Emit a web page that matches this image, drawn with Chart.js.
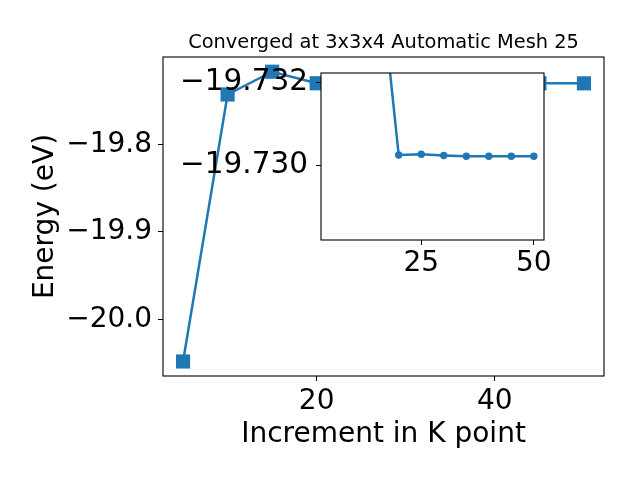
<!DOCTYPE html>
<html>
<head>
<meta charset="utf-8">
<script src="https://cdn.jsdelivr.net/npm/chart.js@4.4.0/dist/chart.umd.min.js"></script>
<style>
  html, body { margin: 0; padding: 0; background: #fff; }
  #wrap { position: relative; width: 640px; height: 480px; }
  canvas { position: absolute; left: 0; top: 0; }
</style>
</head>
<body>
<div id="wrap">
  <canvas id="mainChart" width="640" height="480"></canvas>
  <canvas id="insetChart" width="640" height="480"></canvas>
</div>
<script>
// k-point increments and total energies (eV)
const kPoints = [5, 10, 15, 20, 25, 30, 35, 40, 45, 50];
const energies = [-20.048, -19.743, -19.717, -19.7302, -19.7302, -19.7302, -19.7303, -19.7303, -19.7303, -19.7303];

// values shown in the zoomed inset
const insetK = [15, 20, 25, 30, 35, 40, 45, 50];
const insetEnergies = [-19.7354, -19.73025, -19.73027, -19.73024, -19.73022, -19.73022, -19.73022, -19.73022];

// tick labels
const mainXTicks = [20, 40];
const mainYTicks = [-20.0, -19.9, -19.8];
const insetXTicks = [25, 50];
const insetYTicks = [-19.732, -19.730];

const titleText = 'Converged at 3x3x4 Automatic Mesh 25';
const xTitle = 'Increment in K point';
const yTitle = 'Energy (eV)';

const FONT = 'DejaVu Sans';
const BLUE = '#1f77b4';

// matplotlib style minus sign
function fmt(v, digits) {
    const s = Math.abs(v).toFixed(digits);
    return v < 0 ? '\u2212' + s : s;
}

function toPoints(xs, ys) {
    return xs.map((x, i) => ({ x: x, y: ys[i] }));
}

// white background + black box around the plot area, optional title on top
const framePlugin = {
    id: 'frame',
    beforeDraw(chart, args, opts) {
        const a = chart.chartArea;
        const ctx = chart.ctx;
        ctx.save();
        ctx.fillStyle = '#fff';
        ctx.fillRect(a.left, a.top, a.right - a.left, a.bottom - a.top);
        ctx.restore();
    },
    afterDraw(chart, args, opts) {
        const a = chart.chartArea;
        const ctx = chart.ctx;
        ctx.save();
        ctx.strokeStyle = '#000';
        ctx.lineWidth = 1.1;
        ctx.strokeRect(a.left, a.top, a.right - a.left, a.bottom - a.top);
        if (opts.title) {
            ctx.fillStyle = '#000';
            ctx.font = '19.4px "' + FONT + '"';
            ctx.textAlign = 'center';
            ctx.textBaseline = 'middle';
            ctx.fillText(opts.title, (a.left + a.right) / 2, 43);
        }
        ctx.restore();
    }
};

const tickFont = { family: FONT, size: 28 };
const gridOpts = { drawOnChartArea: false, tickLength: 5, color: '#000', tickColor: '#000' };

// Main chart
new Chart(document.getElementById('mainChart').getContext('2d'), {
    type: 'line',
    data: {
        datasets: [{
            data: toPoints(kPoints, energies),
            borderColor: BLUE,
            backgroundColor: BLUE,
            borderWidth: 2.5,
            pointStyle: 'rect',
            pointRadius: 10,
            pointBorderWidth: 0,
            fill: false,
            tension: 0
        }]
    },
    options: {
        responsive: false,
        animation: false,
        devicePixelRatio: 1,
        events: [],
        layout: { padding: { top: 57, right: 36, left: 0, bottom: 0 } },
        plugins: {
            legend: { display: false },
            tooltip: { enabled: false },
            frame: { title: titleText }
        },
        scales: {
            x: {
                type: 'linear',
                min: 2.75,
                max: 52.25,
                afterBuildTicks: s => { s.ticks = mainXTicks.map(v => ({ value: v })); },
                afterFit: s => { s.height = 104; },
                grid: gridOpts,
                border: { display: false },
                ticks: { color: '#000', font: tickFont, padding: 4, maxRotation: 0, autoSkip: false },
                title: { display: true, text: xTitle, color: '#000', font: tickFont, padding: { top: 0, bottom: 28 } }
            },
            y: {
                type: 'linear',
                min: -20.0646,
                max: -19.7002,
                afterBuildTicks: s => { s.ticks = mainYTicks.map(v => ({ value: v })); },
                afterFit: s => { s.width = 163; },
                grid: gridOpts,
                border: { display: false },
                ticks: { color: '#000', font: tickFont, padding: 6, autoSkip: false, callback: v => fmt(v, 1) },
                title: { display: true, text: yTitle, color: '#000', font: tickFont, padding: { top: 29, bottom: 0 } }
            }
        }
    },
    plugins: [framePlugin]
});

// Inset chart (drawn on a second canvas on top)
new Chart(document.getElementById('insetChart').getContext('2d'), {
    type: 'line',
    data: {
        datasets: [{
            data: toPoints(insetK, insetEnergies),
            borderColor: BLUE,
            backgroundColor: BLUE,
            borderWidth: 2.5,
            pointStyle: 'circle',
            pointRadius: 3.7,
            pointBorderWidth: 0,
            fill: false,
            tension: 0,
            clip: 0
        }]
    },
    options: {
        responsive: false,
        animation: false,
        devicePixelRatio: 1,
        events: [],
        layout: { padding: { top: 73, right: 96, left: 161, bottom: 180 } },
        plugins: {
            legend: { display: false },
            tooltip: { enabled: false },
            frame: {}
        },
        scales: {
            x: {
                type: 'linear',
                min: 2.75,
                max: 52.25,
                afterBuildTicks: s => { s.ticks = insetXTicks.map(v => ({ value: v })); },
                afterFit: s => { s.height = 60; },
                grid: gridOpts,
                border: { display: false },
                ticks: { color: '#000', font: tickFont, padding: 2, maxRotation: 0, autoSkip: false }
            },
            y: {
                type: 'linear',
                reverse: true,
                min: -19.73222,
                max: -19.72821,
                afterBuildTicks: s => { s.ticks = insetYTicks.map(v => ({ value: v })); },
                afterFit: s => { s.width = 160; },
                grid: gridOpts,
                border: { display: false },
                ticks: { color: '#000', font: { family: FONT, size: 29.5 }, padding: 8, autoSkip: false, callback: v => fmt(v, 3) }
            }
        }
    },
    plugins: [framePlugin]
});
</script>
</body>
</html>
